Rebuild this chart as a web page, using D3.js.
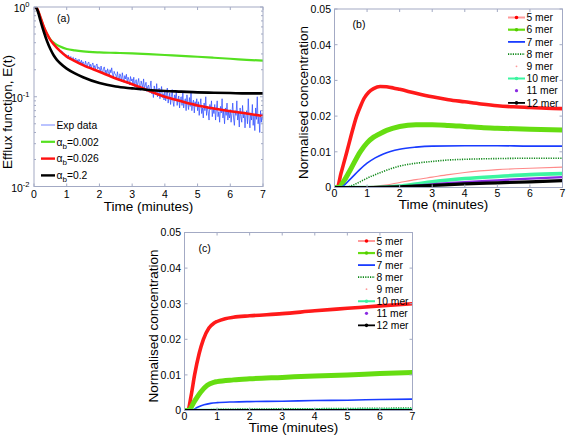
<!DOCTYPE html>
<html><head><meta charset="utf-8">
<script src="https://cdn.jsdelivr.net/npm/d3@7"></script>
<style>
html,body{margin:0;padding:0;background:#fff;}
svg{display:block;font-family:"Liberation Sans",Arial,Helvetica,sans-serif;}
</style></head>
<body><svg id="chart" width="567" height="437"></svg>
<script>
// ---------- DATA ----------
const timeTicks = [0,1,2,3,4,5,6,7];
const logTicks = [1,0.1,0.01];
const logTickExp = ["0","-1","-2"];
const concTicks = [0,0.01,0.02,0.03,0.04,0.05];
const concTickLabels = ["0","0.01","0.02","0.03","0.04","0.05"];

// Panel (a): experimental efflux data, sampled every 0.025 min from 0 to 7
const expStep = 0.025;
const expValues = [
1.0,0.995,0.98,0.955,0.92,0.88,0.835,0.79,0.745,0.70,0.66,0.625,0.59,0.56,0.535,0.51,0.49,0.47,0.455,0.44,
0.43,0.418,0.41,0.40,0.39,0.384,0.372,0.368,0.355,0.352,0.34,0.338,0.325,0.33,0.312,0.318,0.302,0.305,0.292,0.296,
0.285,0.268,0.292,0.275,0.262,0.281,0.258,0.27,0.275,0.249,0.262,0.27,0.244,0.258,0.235,0.262,0.248,0.236,0.255,0.229,
0.245,0.232,0.218,0.25,0.228,0.212,0.238,0.244,0.215,0.23,0.205,0.228,0.238,0.21,0.222,0.198,0.225,0.232,0.204,0.215,
0.21,0.188,0.22,0.196,0.182,0.208,0.215,0.185,0.198,0.175,0.205,0.19,0.172,0.20,0.185,0.21,0.178,0.165,0.192,0.18,
0.175,0.158,0.19,0.165,0.152,0.18,0.17,0.148,0.185,0.16,0.145,0.172,0.158,0.178,0.14,0.165,0.155,0.135,0.168,0.15,
0.158,0.138,0.165,0.13,0.148,0.155,0.125,0.145,0.16,0.128,0.118,0.15,0.138,0.126,0.158,0.122,0.135,0.145,0.115,0.13,
0.135,0.112,0.128,0.15,0.108,0.12,0.098,0.132,0.118,0.105,0.14,0.10,0.115,0.125,0.095,0.112,0.13,0.098,0.108,0.092,
0.115,0.09,0.105,0.125,0.085,0.098,0.11,0.082,0.10,0.12,0.088,0.078,0.105,0.095,0.115,0.08,0.092,0.102,0.075,0.096,
0.10,0.08,0.112,0.075,0.088,0.095,0.07,0.105,0.085,0.072,0.098,0.078,0.115,0.07,0.085,0.092,0.066,0.088,0.078,0.095,
0.07,0.088,0.062,0.08,0.095,0.065,0.075,0.058,0.085,0.07,0.10,0.062,0.078,0.068,0.055,0.082,0.072,0.09,0.06,0.074,
0.065,0.082,0.055,0.072,0.09,0.06,0.068,0.052,0.078,0.066,0.095,0.058,0.07,0.05,0.075,0.062,0.085,0.055,0.068,0.058,
0.072,0.052,0.065,0.085,0.058,0.048,0.07,0.062,0.09,0.055,0.066,0.046,0.075,0.06,0.052,0.08,0.058,0.068,0.045,0.062,
0.07,0.05,0.095,0.058,0.045,0.066,0.055,0.082,0.048,0.062,0.042,0.075,0.056,0.10,0.05,0.06,0.04,0.07,0.052,0.065,
0.055];

// Panel (a): model curves
const effluxTime = [0,0.05,0.1,0.2,0.3,0.4,0.5,0.6,0.7,0.8,1.0,1.25,1.5,2,2.5,3,3.5,4,4.5,5,5.5,6,6.5,7];
const effluxGreen = [1,0.99,0.95,0.76,0.60,0.50,0.435,0.40,0.378,0.362,0.340,0.328,0.320,0.312,0.308,0.304,0.298,0.292,0.285,0.279,0.272,0.265,0.258,0.252];
const effluxRed   = [1,0.99,0.95,0.76,0.60,0.50,0.43,0.385,0.35,0.322,0.280,0.250,0.225,0.19,0.16,0.138,0.117,0.10,0.089,0.080,0.074,0.069,0.065,0.061];
const effluxBlack = [1,0.99,0.93,0.70,0.53,0.415,0.34,0.29,0.258,0.236,0.206,0.182,0.165,0.142,0.130,0.124,0.119,0.116,0.114,0.112,0.111,0.110,0.109,0.109];
const effluxLabels = ["Exp data","0.002","0.026","0.2"];

// Panel (b)
const merNames = ["5 mer","6 mer","7 mer","8 mer","9 mer","10 mer","11 mer","12 mer"];
const b5t = [0,0.08,0.2,0.38,0.5,0.68,0.8,0.91,1.05,1.2,1.4,1.6,1.8,2.0,2.5,3,3.5,4,4.5,5,5.5,6,6.5,7];
const b5v = [0,0,0.004,0.010,0.0142,0.020,0.0228,0.0250,0.0267,0.0277,0.0283,0.0282,0.0279,0.0275,0.0264,0.0254,0.0246,0.0240,0.0234,0.0229,0.0226,0.0224,0.0222,0.0221];
const b6t = [0,0.12,0.3,0.5,0.79,1.0,1.2,1.38,1.6,2.0,2.5,3,3.5,4,4.5,5,6,7];
const b6v = [0,0,0.002,0.0052,0.010,0.0125,0.0141,0.0150,0.0160,0.0171,0.0176,0.0176,0.0174,0.0171,0.0168,0.0166,0.0163,0.0161];
const b7t = [0,0.17,0.5,0.75,1.0,1.25,1.5,2.0,2.5,3,4,5,6,7];
const b7v = [0,0,0.0025,0.0048,0.0068,0.0083,0.0094,0.0107,0.0113,0.0116,0.0117,0.0117,0.0116,0.0116];
const b8t = [0,0.3,0.6,1.0,1.5,2.0,2.5,3,3.5,4,5,6,7];
const b8v = [0,0,0.0008,0.0026,0.0045,0.0060,0.0068,0.0073,0.0077,0.0079,0.0081,0.0082,0.0082];
const b9t = [0,0.5,1.0,1.5,2.0,2.5,3,3.5,4,5,6,7];
const b9v = [0,0,0.0002,0.0006,0.0014,0.0022,0.0029,0.0036,0.0042,0.0050,0.0054,0.0057];
const b10t = [0,1.2,2.0,2.5,3,3.5,4,5,6,7];
const b10v = [0,0,0.0004,0.0010,0.0016,0.0021,0.0025,0.0031,0.0036,0.0039];
const b11t = [0,1.5,2.5,3,4,5,6,7];
const b11v = [0,0,0.0005,0.0009,0.0015,0.0020,0.0025,0.0029];
const b12t = [0,1.0,2,3,4,5,6,7];
const b12v = [0,0,0.0002,0.0006,0.0010,0.0013,0.0016,0.0019];

// Panel (c)
const c5t = [0,0.1,0.2,0.31,0.45,0.58,0.75,0.9,1.0,1.25,1.5,2,3,4,5,6,7];
const c5v = [0,0,0.004,0.010,0.016,0.020,0.0232,0.0245,0.0250,0.0258,0.0262,0.0266,0.0272,0.0280,0.0287,0.0294,0.0300];
const c6t = [0,0.12,0.3,0.5,0.7,0.9,1.0,1.5,2,3,4,5,6,7];
const c6v = [0,0,0.0025,0.0052,0.0071,0.0079,0.0081,0.0086,0.0089,0.0093,0.0097,0.0100,0.0104,0.0107];
const c7t = [0,0.2,0.4,0.6,0.8,1.0,1.5,2,3,4,5,6,7];
const c7v = [0,0,0.0009,0.0016,0.0020,0.0022,0.0024,0.0025,0.0026,0.0028,0.0029,0.0031,0.0032];
const c8t = [0,0.3,1.0,2.0,4.0,7.0];
const c8v = [0,0,0.0003,0.0004,0.0005,0.0007];
const c9t = [0,0.5,7];
const c9v = [0,0,0.0001];
const c10t = [0,1.0,7];
const c10v = [0,0,0.0001];
const c11t = [0,7];
const c11v = [0,0];
const c12t = [0,7];
const c12v = [0,0];

// ---------- DRAW ----------
const svg = d3.select("#chart");
svg.append("rect").attr("width",567).attr("height",437).attr("fill","#fff");
const FRAME = "#a3aac4";
const FONT_TICK = 10.5, FONT_TITLE = 13.5, FONT_LEG = 10.3;

function clip(id, x, y){
  svg.append("clipPath").attr("id",id).append("rect")
    .attr("x",x.range()[0]).attr("y",y.range()[1])
    .attr("width",x.range()[1]-x.range()[0]).attr("height",y.range()[0]-y.range()[1]);
}

function frame(x, y, opts){
  const g = svg.append("g");
  const x0=x.range()[0], x1=x.range()[1], yb=y.range()[0], yt=y.range()[1];
  const TL = 3;
  timeTicks.forEach(t=>{
    const px = x(t);
    g.append("line").attr("x1",px).attr("x2",px).attr("y1",yb).attr("y2",yb-TL).attr("stroke",FRAME);
    g.append("line").attr("x1",px).attr("x2",px).attr("y1",yt).attr("y2",yt+TL).attr("stroke",FRAME);
    g.append("text").attr("x",px).attr("y",yb+opts.xLabDy).attr("text-anchor","middle")
      .attr("font-size",FONT_TICK).attr("fill","#000").text(t);
  });
  opts.yTicks.forEach((v,i)=>{
    const py = y(v);
    g.append("line").attr("x1",x0).attr("x2",x0+TL).attr("y1",py).attr("y2",py).attr("stroke",FRAME);
    g.append("line").attr("x1",x1).attr("x2",x1-TL).attr("y1",py).attr("y2",py).attr("stroke",FRAME);
    if (opts.log){
      const t = g.append("text").attr("x",x0-4.5).attr("y",py+5).attr("text-anchor","end")
        .attr("font-size",FONT_TICK).attr("fill","#000");
      t.append("tspan").text("10");
      t.append("tspan").attr("dy",-5).attr("font-size",7.5).text(logTickExp[i]);
    } else {
      g.append("text").attr("x",x0-3.5).attr("y",py+3.8).attr("text-anchor","end")
        .attr("font-size",FONT_TICK).attr("fill","#000").text(concTickLabels[i]);
    }
  });
  if (opts.minor){
    opts.minor.forEach(v=>{
      const py = y(v);
      g.append("line").attr("x1",x0).attr("x2",x0+2).attr("y1",py).attr("y2",py).attr("stroke",FRAME);
      g.append("line").attr("x1",x1).attr("x2",x1-2).attr("y1",py).attr("y2",py).attr("stroke",FRAME);
    });
  }
  g.append("rect").attr("x",x0).attr("y",yt).attr("width",x1-x0).attr("height",yb-yt)
    .attr("fill","none").attr("stroke",FRAME).attr("stroke-width",1);
  g.append("text").attr("x",opts.xTitleX).attr("y",yb+opts.xTitleDy).attr("text-anchor","middle")
    .attr("font-size",FONT_TITLE).attr("fill","#000").text("Time (minutes)");
  g.append("text").attr("transform",`translate(${opts.yTitleX},${opts.yTitleY}) rotate(-90)`)
    .attr("text-anchor","middle").attr("font-size",opts.yTitleSize||FONT_TITLE).attr("fill","#000").text(opts.yTitle);
  g.append("text").attr("x",opts.tag[0]).attr("y",opts.tag[1]).attr("text-anchor","middle")
    .attr("font-size",10.5).attr("fill","#000").text(opts.tag[2]);
}

function drawLine(clipId, x, y, ts, vs, style){
  const line = d3.line().x((d,i)=>x(ts[i])).y(d=>y(d)).curve(d3.curveMonotoneX);
  const p = svg.append("path").attr("clip-path",`url(#${clipId})`)
    .attr("d", line(vs)).attr("fill","none")
    .attr("stroke",style.color).attr("stroke-width",style.width)
    .attr("stroke-linejoin","round").attr("stroke-linecap","round");
  if (style.dash) p.attr("stroke-dasharray",style.dash).attr("stroke-linecap","butt");
  return p;
}

// ---- Panel (a) ----
const xa = d3.scaleLinear().domain([0,7]).range([34,263]);
const ya = d3.scaleLog().domain([0.01,1]).range([186.5,7]);
clip("ca", xa, ya);
const minorA = [];
[0.01,0.1].forEach(d=>{ for(let k=2;k<=9;k++) minorA.push(d*k); });
const expT = expValues.map((v,i)=>i*expStep);
svg.append("path").attr("clip-path","url(#ca)")
  .attr("d", d3.line().x((d,i)=>xa(expT[i])).y(d=>ya(d))(expValues))
  .attr("fill","none").attr("stroke","#2a48ff").attr("stroke-width",0.9).attr("stroke-opacity",0.8);
drawLine("ca", xa, ya, effluxTime, effluxGreen, {color:"#55e020", width:2.2});
drawLine("ca", xa, ya, effluxTime, effluxRed, {color:"#ff1010", width:2.6});
drawLine("ca", xa, ya, effluxTime, effluxBlack, {color:"#000", width:2.6});
frame(xa, ya, {yTicks:logTicks, log:true, minor:minorA, xLabDy:11, xTitleX:148.5, xTitleDy:24.5,
  yTitleX:11.5, yTitleY:112, yTitleSize:13.5, yTitle:"Efflux function, E(t)", tag:[63.5,22,"(a)"]});

// legend (a)
const legA = [{c:"#a9b4ff",w:1.6},{c:"#55e020",w:2.2},{c:"#ff1010",w:2.4},{c:"#000",w:2.4}];
const legAy = [125,141.8,158.6,175.4];
legA.forEach((s,i)=>{
  svg.append("line").attr("x1",41).attr("x2",55).attr("y1",legAy[i]).attr("y2",legAy[i])
    .attr("stroke",s.c).attr("stroke-width",s.w);
  const t = svg.append("text").attr("x",56.5).attr("y",legAy[i]+3.7).attr("font-size",FONT_LEG).attr("fill","#000");
  if (i===0) t.text(effluxLabels[0]);
  else {
    t.append("tspan").text("\u03b1");
    t.append("tspan").attr("dy",3).attr("font-size",8).text("b");
    t.append("tspan").attr("dy",-3).text("="+effluxLabels[i]);
  }
});

// ---- Styles for mer series ----
const merStyles = [
  {color:"#ff1a1a", width:3.6, legLine:"#ff9a9a", legDot:"#ff0000", legW:2},
  {color:"#66dd11", width:5, legLine:"#66dd11", legDot:"#55cc00", legW:2.2},
  {color:"#1a3cff", width:1.6, legLine:"#1a3cff", legW:1.8},
  {color:"#10891a", width:1.6, dash:"1.2,1.2", legLine:"#10891a", legW:1.6},
  {color:"#ff8a8a", width:1.1, legLine:null, legDot:"#ff9a9a", dotR:0.9},
  {color:"#3cf5a0", width:3.6, legLine:"#3cf5a0", legDot:"#3cf5a0", legW:2},
  {color:"#8a2be2", width:2.2, legLine:null, legDot:"#8a2be2", dotR:1.6},
  {color:"#000000", width:3.2, legLine:"#000", legDot:"#000", legW:1.8}
];

function merLegend(x0, y0, dy){
  merNames.forEach((n,i)=>{
    const s = merStyles[i], yy = y0 + i*dy;
    if (s.legLine){
      const l = svg.append("line").attr("x1",x0).attr("x2",x0+17).attr("y1",yy).attr("y2",yy)
        .attr("stroke",s.legLine).attr("stroke-width",s.legW);
      if (s.dash) l.attr("stroke-dasharray",s.dash);
    }
    if (s.legDot){
      svg.append("circle").attr("cx",x0+8.5).attr("cy",yy).attr("r",s.dotR||1.8).attr("fill",s.legDot);
    }
    svg.append("text").attr("x",x0+18.5).attr("y",yy+3.7).attr("font-size",FONT_LEG).attr("fill","#000").text(n);
  });
}

// ---- Panel (b) ----
const xb = d3.scaleLinear().domain([0,7]).range([334.5,562.5]);
const yb = d3.scaleLinear().domain([0,0.05]).range([187.5,9]);
clip("cb", xb, yb);
const bT = [b5t,b6t,b7t,b8t,b9t,b10t,b11t,b12t];
const bV = [b5v,b6v,b7v,b8v,b9v,b10v,b11v,b12v];
bT.forEach((t,i)=>drawLine("cb", xb, yb, t, bV[i], merStyles[i]));
frame(xb, yb, {yTicks:concTicks, log:false, xLabDy:9, xTitleX:443.5, xTitleDy:21.5,
  yTitleX:308, yTitleY:102.5, yTitle:"Normalised concentration", tag:[359,27.5,"(b)"]});
merLegend(508, 17.5, 12.2);

// ---- Panel (c) ----
const xc = d3.scaleLinear().domain([0,7]).range([184.5,412.5]);
const yc = d3.scaleLinear().domain([0,0.05]).range([410.5,232.5]);
clip("cc", xc, yc);
const cT = [c5t,c6t,c7t,c8t,c9t,c10t,c11t,c12t];
const cV = [c5v,c6v,c7v,c8v,c9v,c10v,c11v,c12v];
cT.forEach((t,i)=>drawLine("cc", xc, yc, t, cV[i], merStyles[i]));
frame(xc, yc, {yTicks:concTicks, log:false, xLabDy:9, xTitleX:293.5, xTitleDy:21.5,
  yTitleX:158, yTitleY:326, yTitle:"Normalised concentration", tag:[204.7,252,"(c)"]});
merLegend(358, 241, 12.05);
</script></body></html>
